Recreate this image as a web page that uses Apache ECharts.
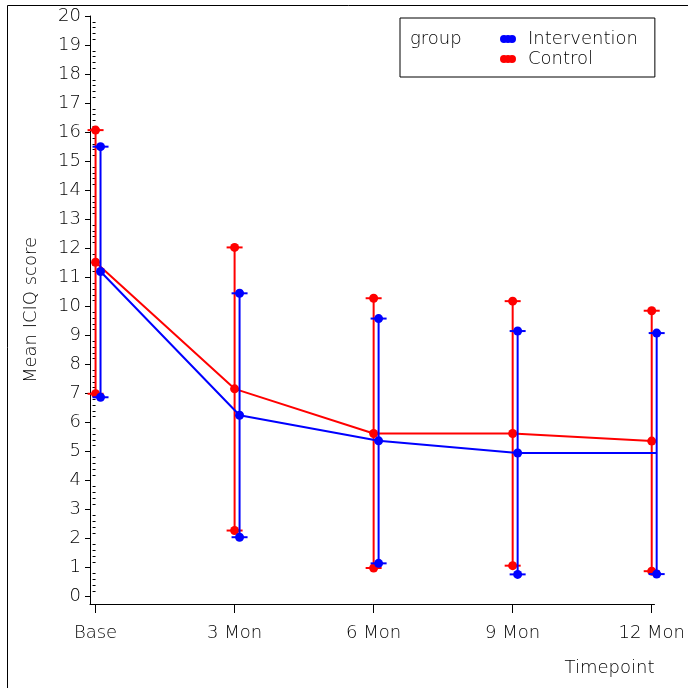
<!DOCTYPE html>
<html>
<head>
<meta charset="utf-8">
<script src="https://cdn.jsdelivr.net/npm/echarts@6/dist/echarts.min.js"></script>
<style>
  html, body { margin: 0; padding: 0; background: #fff; }
  #chart { width: 688px; height: 688px; }
</style>
</head>
<body>
<div id="chart"></div>
<script>
// Timepoints on the x axis
const timepoints = ['Base', '3 Mon', '6 Mon', '9 Mon', '12 Mon'];
const groups = ['Intervention', 'Control'];

// Mean ICIQ score with lower / upper error limits per timepoint
const interventionMean  = [11.2, 6.25, 5.37, 4.95, 4.95];
const interventionLower = [6.87, 2.05, 1.15, 0.77, 0.78];
const interventionUpper = [15.5, 10.45, 9.58, 9.15, 9.08];

const controlMean  = [11.52, 7.16, 5.62, 5.62, 5.36];
const controlLower = [6.99, 2.28, 0.99, 1.07, 0.88];
const controlUpper = [16.07, 12.03, 10.28, 10.18, 9.85];

const yTicks = [0,1,2,3,4,5,6,7,8,9,10,11,12,13,14,15,16,17,18,19,20];

const FONT = 'DejaVu Sans';
const WEIGHT = 200;
const SIZE = 18;
const TEXT = '#000';
const BLUE = '#0000ff';
const RED = '#ff0000';
const DODGE = 5 / 140;   // small horizontal shift of the intervention group

// minor ticks every 0.2 between the major ticks
const yMinor = [];
for (let i = 0; i < yTicks.length - 1; i++) {
  for (let k = 1; k < 5; k++) yMinor.push(yTicks[i] + k * 0.2);
}

function points(mean, shift) {
  return mean.map((v, i) => [i + shift, v]);
}
function bars(lower, upper, shift) {
  return lower.map((v, i) => [i + shift, v, upper[i]]);
}

function errorBar(color) {
  return function (params, api) {
    const x = api.value(0);
    const lo = api.coord([x, api.value(1)]);
    const hi = api.coord([x, api.value(2)]);
    const style = { stroke: color, lineWidth: 2 };
    const cap = 8;
    return {
      type: 'group',
      children: [
        { type: 'line', shape: { x1: lo[0], y1: lo[1], x2: hi[0], y2: hi[1] }, style },
        { type: 'line', shape: { x1: lo[0] - cap, y1: lo[1], x2: lo[0] + cap, y2: lo[1] }, style },
        { type: 'line', shape: { x1: hi[0] - cap, y1: hi[1], x2: hi[0] + cap, y2: hi[1] }, style },
        { type: 'circle', shape: { cx: lo[0], cy: lo[1], r: 4.5 }, style: { fill: color } },
        { type: 'circle', shape: { cx: hi[0], cy: hi[1], r: 4.5 }, style: { fill: color } }
      ]
    };
  };
}

// legend marker: a short run of overlapping dots
const dotsIcon = 'path://M4,0A4,4,0,1,1,4,8A4,4,0,1,1,4,0ZM8,0A4,4,0,1,1,8,8A4,4,0,1,1,8,0ZM12,0A4,4,0,1,1,12,8A4,4,0,1,1,12,0Z';

const txt = { fontFamily: FONT, fontSize: SIZE, fontWeight: WEIGHT, color: TEXT };

const chart = echarts.init(document.getElementById('chart'), null, { renderer: 'canvas' });

chart.setOption({
  animation: false,
  backgroundColor: '#fff',
  textStyle: { fontFamily: FONT, color: TEXT },
  color: [BLUE, RED],
  graphic: [{
    type: 'rect',
    shape: { x: 7.5, y: 5.5, width: 720, height: 720 },
    style: { fill: 'none', stroke: '#000', lineWidth: 1 },
    silent: true
  }],
  title: {
    text: 'group',
    left: 410,
    top: 30,
    padding: 0,
    textStyle: Object.assign({}, txt)
  },
  legend: {
    data: groups.map(name => ({ name, icon: dotsIcon })),
    orient: 'vertical',
    left: 400,
    top: 18,
    padding: [12, 17, 9, 100],
    itemGap: 2,
    itemWidth: 16,
    itemHeight: 8,
    borderColor: '#000',
    borderWidth: 1,
    borderRadius: 0,
    selectedMode: false,
    textStyle: Object.assign({ padding: [0, 0, 0, 7] }, txt)
  },
  grid: { left: 90, right: 29.6, top: 16, bottom: 84 },
  xAxis: {
    type: 'value',
    min: -0.04,
    max: 4.02,
    name: 'Timepoint',
    nameLocation: 'end',
    nameGap: 0,
    nameTextStyle: Object.assign({ align: 'right', verticalAlign: 'top', padding: [55, 0, 0, 0] }, txt),
    splitLine: { show: false },
    axisLine: { show: true, onZero: false, lineStyle: { color: '#000', width: 1 } },
    axisTick: { show: true, customValues: [0, 1, 2, 3, 4], length: 9, lineStyle: { color: '#000' } },
    axisLabel: Object.assign({
      customValues: [0, 1, 2, 3, 4],
      formatter: v => timepoints[Math.round(v)],
      margin: 20
    }, txt)
  },
  yAxis: [{
    type: 'value',
    min: -0.25,
    max: 20,
    name: 'Mean ICIQ score',
    nameLocation: 'middle',
    nameGap: 50,
    nameTextStyle: Object.assign({}, txt),
    splitLine: { show: false },
    axisLine: { show: true, onZero: false, lineStyle: { color: '#000', width: 1 } },
    axisTick: { show: true, customValues: yTicks, length: 5, lineStyle: { color: '#000' } },
    axisLabel: Object.assign({ customValues: yTicks, margin: 9 }, txt)
  }, {
    type: 'value',
    min: -0.25,
    max: 20,
    position: 'left',
    splitLine: { show: false },
    axisLine: { show: false },
    axisTick: { show: true, customValues: yMinor, length: 3, lineStyle: { color: '#000' } },
    axisLabel: { show: false }
  }],
  series: [
    {
      name: 'Control', type: 'custom', renderItem: errorBar(RED),
      data: bars(controlLower, controlUpper, 0), z: 2, itemStyle: { color: RED }
    },
    {
      name: 'Control', type: 'line', data: points(controlMean, 0),
      symbol: 'circle', symbolSize: 9, lineStyle: { color: RED, width: 2 },
      itemStyle: { color: RED }, z: 3
    },
    {
      name: 'Intervention', type: 'custom', renderItem: errorBar(BLUE),
      data: bars(interventionLower, interventionUpper, DODGE), z: 4, itemStyle: { color: BLUE }
    },
    {
      name: 'Intervention', type: 'line', data: points(interventionMean, DODGE),
      symbol: 'circle', symbolSize: 9, lineStyle: { color: BLUE, width: 2 },
      itemStyle: { color: BLUE }, z: 5
    }
  ]
});
</script>
</body>
</html>
